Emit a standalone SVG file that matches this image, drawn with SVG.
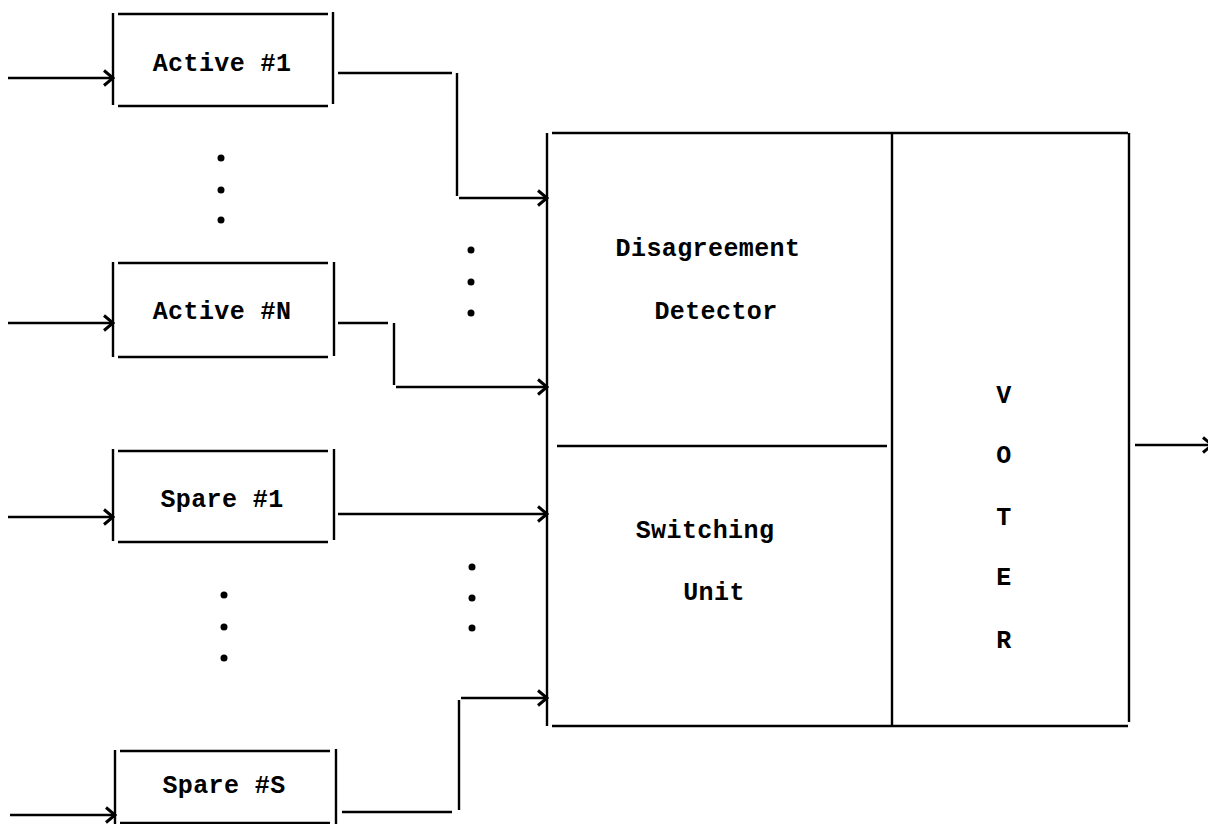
<svg xmlns="http://www.w3.org/2000/svg" width="1208" height="824" viewBox="0 0 1208 824">
<defs>
<marker id="arr" markerWidth="12" markerHeight="18" refX="10" refY="9" orient="auto" markerUnits="userSpaceOnUse">
<path d="M1,1.5 L10,9 L1,16.5" fill="none" stroke="#000" stroke-width="3"/>
</marker>
<style>
.ln{fill:none;stroke:#000;stroke-width:2.4}
.tx{font-family:"Liberation Mono",monospace;font-weight:bold;font-size:25px;letter-spacing:0.4px;fill:#000;text-anchor:middle}
.dot{fill:#000}
</style>
</defs>
<rect width="1208" height="824" fill="#fff"/>
<g id="active1">
<path class="ln" d="M113,13 V105 M118,14 H328 M333,12 V104 M118,106 H328"/>
<text class="tx" x="222" y="71">Active #1</text>
</g>
<g id="activeN">
<path class="ln" d="M113,262 V357 M118,263 H328 M334,262 V356 M118,357 H328"/>
<text class="tx" x="222" y="319">Active #N</text>
</g>
<g id="spare1">
<path class="ln" d="M113,449 V541 M118,451 H328 M334,449 V540 M118,542 H328"/>
<text class="tx" x="222" y="507">Spare #1</text>
</g>
<g id="spareS">
<path class="ln" d="M115,750 V824 M120,751 H330 M336,749 V824 M120,823 H330"/>
<text class="tx" x="224" y="793">Spare #S</text>
</g>
<g id="big">
<path class="ln" d="M547,133 V726 M552,133 H1128 M1129,133 V722 M552,726 H1128 M892,133 V726 M557,446 H887"/>
<text class="tx" x="708" y="256">Disagreement</text>
<text class="tx" x="716" y="319">Detector</text>
<text class="tx" x="705" y="538">Switching</text>
<text class="tx" x="714" y="600">Unit</text>
<text class="tx" x="1004" y="403">V</text>
<text class="tx" x="1004" y="463">O</text>
<text class="tx" x="1004" y="525">T</text>
<text class="tx" x="1004" y="585">E</text>
<text class="tx" x="1004" y="648">R</text>
</g>
<g id="dots">
<circle class="dot" cx="221" cy="158" r="3.5"/>
<circle class="dot" cx="221" cy="190" r="3.5"/>
<circle class="dot" cx="221" cy="220" r="3.5"/>
<circle class="dot" cx="471" cy="250" r="3.5"/>
<circle class="dot" cx="471" cy="282" r="3.5"/>
<circle class="dot" cx="471" cy="313" r="3.5"/>
<circle class="dot" cx="472" cy="567" r="3.5"/>
<circle class="dot" cx="472" cy="598" r="3.5"/>
<circle class="dot" cx="472" cy="628" r="3.5"/>
<circle class="dot" cx="224" cy="595" r="3.5"/>
<circle class="dot" cx="224" cy="627" r="3.5"/>
<circle class="dot" cx="224" cy="658" r="3.5"/>
</g>
<g id="connectors">
<path class="ln" marker-end="url(#arr)" d="M8,78 H113"/>
<path class="ln" marker-end="url(#arr)" d="M8,323 H113"/>
<path class="ln" marker-end="url(#arr)" d="M8,517 H113"/>
<path class="ln" marker-end="url(#arr)" d="M10,815 H115"/>
<path class="ln" d="M338,73 H452 M457,73 V196"/>
<path class="ln" marker-end="url(#arr)" d="M459,198 H547"/>
<path class="ln" d="M338,323 H388 M394,323 V385"/>
<path class="ln" marker-end="url(#arr)" d="M396,387 H547"/>
<path class="ln" marker-end="url(#arr)" d="M338,514 H547"/>
<path class="ln" d="M342,812 H452 M459,810 V700"/>
<path class="ln" marker-end="url(#arr)" d="M461,698 H547"/>
<path class="ln" marker-end="url(#arr)" d="M1135,445 H1212"/>
</g>
</svg>
